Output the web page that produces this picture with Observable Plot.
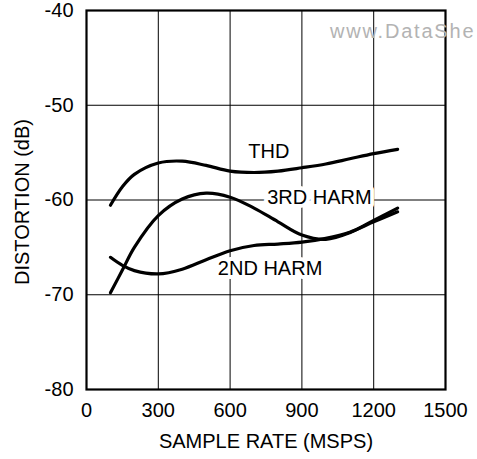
<!DOCTYPE html>
<html><head><meta charset="utf-8">
<script src="https://cdn.jsdelivr.net/npm/d3@7"></script>
<script src="https://cdn.jsdelivr.net/npm/@observablehq/plot@0.6"></script>
<style>html,body{margin:0;padding:0;background:#fff;}</style>
</head><body><div id="chart"></div>
<script>
// Sample rate (MSPS) at which each curve was read
const sampleRates = [100, 150, 200, 300, 400, 500, 600, 700, 800, 900, 1000, 1100, 1200, 1300];
// Distortion (dB)
const thd   = [-60.55, -58.6, -57.3, -56.1, -55.9, -56.35, -56.95, -57.1, -56.95, -56.6, -56.2, -55.65, -55.1, -54.65];
const harm3 = [-69.8, -67.4, -65.0, -61.65, -59.9, -59.28, -59.7, -60.85, -62.3, -63.7, -64.15, -63.45, -62.15, -60.85];
const harm2 = [-66.05, -66.9, -67.45, -67.8, -67.3, -66.3, -65.35, -64.8, -64.65, -64.45, -64.05, -63.4, -62.3, -61.25];
const seriesNames = ["THD", "3RD HARM", "2ND HARM"];
// Curve labels (data coordinates)
const labelRate = [762, 973, 767];
const labelDb = [-54.9, -59.7, -67.2];
const xTicks = [0, 300, 600, 900, 1200, 1500];
const yTicks = [-80, -70, -60, -50, -40];
const xTitle = "SAMPLE RATE (MSPS)";
const yTitle = "DISTORTION (dB)";
const watermark = "www.DataShe";

const values = [thd, harm3, harm2];
const rows = seriesNames.flatMap((name, i) =>
  sampleRates.map((r, j) => ({series: name, rate: r, db: values[i][j]})));
const labels = seriesNames.map((name, i) => ({name, rate: labelRate[i], db: labelDb[i]}));

const font = "'Liberation Sans', Arial, Helvetica, sans-serif";
const fmt = d => String(d);

const chart = Plot.plot({
  width: 477,
  height: 459,
  marginLeft: 86,
  marginRight: 32,
  marginTop: 10,
  marginBottom: 70,
  style: {fontFamily: font, background: "#fff", color: "#000"},
  x: {domain: [0, 1500], ticks: xTicks},
  y: {domain: [-80, -40], ticks: yTicks},
  marks: [
    Plot.gridX(xTicks, {stroke: "#000", strokeOpacity: 1, strokeWidth: 1}),
    Plot.gridY(yTicks, {stroke: "#000", strokeOpacity: 1, strokeWidth: 1}),
    Plot.frame({stroke: "#000", strokeWidth: 2.2}),
    Plot.line(rows, {x: "rate", y: "db", z: "series", stroke: "#000", strokeWidth: 3.2, curve: "catmull-rom"}),
    Plot.text(labels, {x: "rate", y: "db", text: "name", fontSize: 20, fill: "#000",
      stroke: "#fff", strokeWidth: 8, paintOrder: "stroke"}),
    Plot.text([watermark], {x: 1017, y: -42.2, text: d => d, textAnchor: "start", fontSize: 20,
      fill: "#b3b3b3"}),
    Plot.axisX(xTicks, {tickSize: 0, tickPadding: 13, fontSize: 20, label: null, tickFormat: fmt}),
    Plot.axisY(yTicks, {tickSize: 0, tickPadding: 13, fontSize: 20, label: null, tickFormat: fmt}),
    Plot.text([xTitle], {frameAnchor: "bottom", text: d => d, dy: 52, fontSize: 20, lineAnchor: "middle", textAnchor: "middle"}),
    Plot.text([yTitle], {frameAnchor: "left", text: d => d, rotate: -90, dx: -64, dy: 2, fontSize: 20, lineAnchor: "middle", textAnchor: "middle"})
  ]
});
d3.select(chart).selectAll("text")
  .filter(function() { return this.textContent === watermark; })
  .attr("letter-spacing", "1.8px")
  .style("letter-spacing", "1.8px");
document.getElementById("chart").appendChild(chart);
</script>
</body></html>
